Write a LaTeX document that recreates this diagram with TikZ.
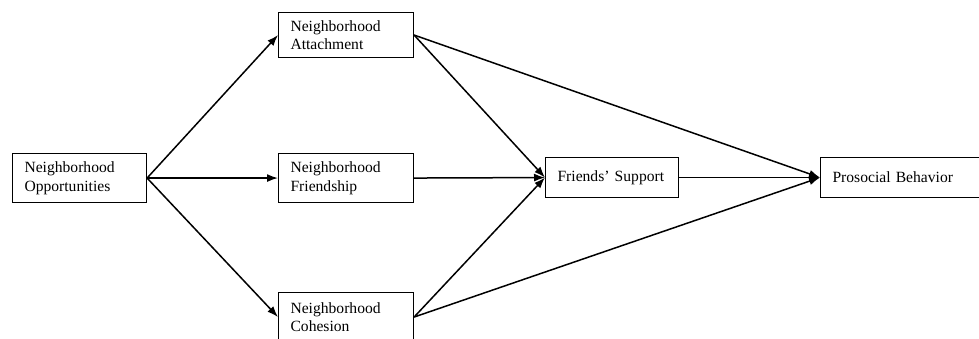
\documentclass[tikz,border=0pt]{standalone}
\usepackage{fontspec}
\setmainfont{Liberation Serif}
\usetikzlibrary{arrows.meta}

\tikzset{
 box/.style={draw, line width=1.1pt, anchor=north west, align=left,
   inner xsep=12pt, inner ysep=0pt, font=\fontsize{15.6}{18.5}\selectfont},
 link/.style={line width=1.5pt, -{Latex[length=11pt,width=8pt]}},
}

\begin{document}
\begin{tikzpicture}[x=1pt,y=-1pt]
\useasboundingbox (0,0) rectangle (979,339);
% boxes
\node[box, text width=110pt, minimum height=49pt] (opp) at (12,153) {Neighborhood\\Opportunities};
\node[box, text width=111pt, minimum height=45pt] (att) at (278,12) {Neighborhood\\Attachment};
\node[box, text width=111pt, minimum height=49pt] (fri) at (278,153) {Neighborhood\\Friendship};
\node[box, text width=111pt, minimum height=49pt] (coh) at (278,292) {Neighborhood\\Cohesion};
\node[box, text width=109pt, minimum height=40pt] (sup) at (545,157) {Friends' Support};
\node[box, text width=146pt, minimum height=40pt] (pro) at (820,157) {Prosocial Behavior};
% paths
\foreach \t in {att,fri,coh} {
 \draw[link] (opp.east) -- (\t.west);
}
\foreach \s in {att,fri,coh} {
 \draw[link] (\s.east) -- (sup.west);
}
\foreach \s in {att,sup,coh} {
 \draw[link] (\s.east) -- (pro.west);
}
\end{tikzpicture}
\end{document}
